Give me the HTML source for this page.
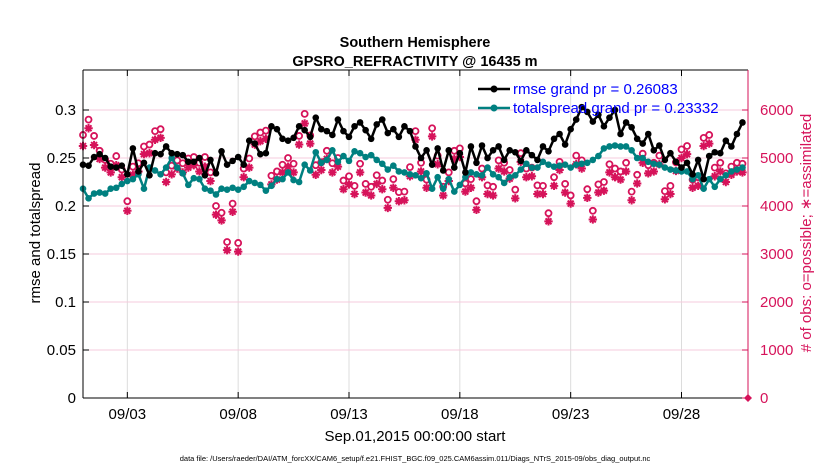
<!DOCTYPE html>
<html><head><meta charset="utf-8">
<style>
body{margin:0;background:#fff;}
svg{display:block;font-family:"Liberation Sans",sans-serif;}
</style></head>
<body>
<svg id="chart" width="830" height="470" xmlns="http://www.w3.org/2000/svg">
<rect width="830" height="470" fill="#fff"/>
<text x="415" y="47" text-anchor="middle" font-size="14.5" font-weight="bold">Southern Hemisphere</text>
<text x="415" y="66" text-anchor="middle" font-size="14.5" font-weight="bold">GPSRO_REFRACTIVITY @ 16435 m</text>
<g id="grid"></g>
<g id="marks"></g>
<g id="axes"></g>
<text transform="translate(40,233) rotate(-90)" text-anchor="middle" font-size="15">rmse and totalspread</text>
<text transform="translate(811,233) rotate(-90)" text-anchor="middle" font-size="15" fill="#d6135a"># of obs: o=possible; ∗=assimilated</text>
<text x="415" y="441" text-anchor="middle" font-size="15">Sep.01,2015 00:00:00 start</text>
<text x="415" y="461" text-anchor="middle" font-size="7.5">data file: /Users/raeder/DAI/ATM_forcXX/CAM6_setup/f.e21.FHIST_BGC.f09_025.CAM6assim.011/Diags_NTrS_2015-09/obs_diag_output.nc</text>
<g>
  <line x1="478" y1="89" x2="510" y2="89" stroke="#000" stroke-width="2.5"/>
  <circle cx="494" cy="89" r="3.5" fill="#000"/>
  <text x="513" y="94" font-size="15" fill="#0000ff">rmse grand pr = 0.26083</text>
  <line x1="478" y1="108" x2="510" y2="108" stroke="#008080" stroke-width="2.5"/>
  <circle cx="494" cy="108" r="3.5" fill="#008080"/>
  <text x="513" y="113" font-size="15" fill="#0000ff">totalspread grand pr = 0.23332</text>
</g>
</svg>
<script>
const rmse = [0.243,0.242,0.251,0.254,0.250,0.241,0.240,0.242,0.233,0.260,0.236,0.245,0.232,0.255,0.254,0.262,0.255,0.254,0.253,0.246,
0.246,0.250,0.232,0.248,0.234,0.257,0.243,0.247,0.251,0.243,
0.268,0.265,0.254,0.255,0.283,0.280,0.270,0.268,0.271,0.283,
0.279,0.272,0.292,0.280,0.278,0.274,0.290,0.278,0.272,0.283,
0.287,0.279,0.270,0.285,0.290,0.276,0.280,0.272,0.283,0.278,
0.262,0.250,0.258,0.243,0.260,0.237,0.258,0.240,0.255,0.235,
0.262,0.245,0.263,0.250,0.258,0.262,0.248,0.258,0.256,0.247,
0.258,0.253,0.248,0.262,0.257,0.270,0.275,0.264,0.280,0.290,
0.303,0.298,0.288,0.295,0.283,0.292,0.300,0.275,0.287,0.282,
0.270,0.265,0.275,0.258,0.263,0.248,0.255,0.246,0.240,0.245,
0.233,0.248,0.228,0.252,0.256,0.255,0.268,0.262,0.275,0.287];
const spread = [0.218,0.208,0.213,0.214,0.213,0.218,0.219,0.223,0.226,0.228,
0.233,0.218,0.240,0.237,0.233,0.240,0.250,0.240,0.234,0.222,
0.229,0.228,0.218,0.216,0.212,0.218,0.217,0.219,0.217,0.220,
0.226,0.224,0.222,0.216,0.221,0.228,0.228,0.235,0.227,0.225,
0.243,0.237,0.256,0.245,0.248,0.258,0.246,0.252,0.247,0.257,
0.255,0.251,0.253,0.248,0.244,0.238,0.242,0.236,0.235,0.233,
0.232,0.229,0.234,0.218,0.230,0.218,0.228,0.215,0.222,0.230,
0.235,0.233,0.232,0.240,0.233,0.230,0.224,0.230,0.232,0.238,
0.244,0.240,0.240,0.246,0.243,0.241,0.242,0.243,0.240,0.243,
0.244,0.245,0.248,0.252,0.260,0.262,0.263,0.262,0.262,0.258,
0.250,0.250,0.246,0.244,0.243,0.240,0.238,0.237,0.236,0.236,
0.228,0.232,0.218,0.228,0.220,0.228,0.232,0.236,0.238,0.240];
const possible = [5480,5800,5460,5150,4960,4880,5040,4760,4100,4820,
4890,5240,5280,5560,5600,4700,4840,4950,4890,4990,
5020,4900,5020,4700,4000,3860,3250,4050,3230,4780,
4990,5450,5530,5570,4630,4720,4860,5000,4880,5460,
5920,5470,4850,4910,5150,4890,5000,4530,4620,4420,
4880,4460,4400,4640,4530,4130,4560,4290,4300,4810,
5560,4900,4550,5620,5050,4400,4700,5150,5200,4470,
4560,4100,4780,4430,4400,4950,4900,4750,4340,5100,
4780,4800,4430,4420,3850,4600,4920,4460,4220,5050,
4950,4350,3900,4450,4500,4870,4780,4720,4900,4300,
4650,5090,4850,4900,5050,4310,4420,4910,5180,5250,
4550,4600,5420,5480,4800,4900,4680,4820,4900,4880];
const assimilated = [5250,5620,5270,4980,4800,4700,4850,4600,3900,4650,
4720,5080,5100,5380,5420,4500,4660,4780,4700,4800,
4850,4720,4820,4520,3820,3700,3080,3880,3050,4600,
4800,5280,5350,5400,4450,4550,4700,4820,4700,5280,
5720,5300,4650,4750,4980,4700,4820,4350,4450,4250,
4700,4280,4220,4460,4350,3960,4380,4100,4120,4620,
5380,4720,4380,5450,4870,4220,4520,4980,5020,4300,
4380,3920,4600,4250,4220,4780,4720,4570,4160,4920,
4600,4620,4250,4250,3680,4420,4750,4280,4050,4870,
4780,4170,3720,4280,4320,4700,4600,4550,4720,4120,
4470,4900,4680,4720,4870,4140,4250,4730,5000,5080,
4380,4420,5250,5300,4620,4720,4500,4650,4720,4700];
const leftTicks = [0,0.05,0.1,0.15,0.2,0.25,0.3];
const leftTickLabels = ["0","0.05","0.1","0.15","0.2","0.25","0.3"];
const rightTicks = [0,1000,2000,3000,4000,5000,6000];
const xTickDays = [2,7,12,17,22,27];
const xTickLabels = ["09/03","09/08","09/13","09/18","09/23","09/28"];

const NS="http://www.w3.org/2000/svg";
const L=83,R=748,T=70,B=398;
const dayPx=(R-L)/30;
const xDay=d=>L+d*dayPx;
const xIdx=i=>xDay(i*0.25);
const yL=v=>B-(v/0.3)*(B-110);
const yR=c=>B-(c/6000)*(B-110);
function mk(tag,attrs,parent){const e=document.createElementNS(NS,tag);for(const k in attrs)e.setAttribute(k,attrs[k]);parent.appendChild(e);return e;}
const grid=document.getElementById('grid'),marks=document.getElementById('marks'),axes=document.getElementById('axes');
xTickDays.forEach(d=>{const l=mk('line',{x1:xDay(d),x2:xDay(d),y1:T,y2:B,stroke:'#dcdcdc','stroke-width':1},grid);

});
rightTicks.forEach(c=>{if(c===0)return;const l=mk('line',{x1:L,x2:R,y1:yR(c),y2:yR(c),stroke:'#f6cbdc','stroke-width':1},grid);

});
possible.forEach((c,i)=>{const e=mk('circle',{cx:xIdx(i),cy:yR(c),r:3,fill:'#fff',stroke:'#d6135a','stroke-width':1.8},marks);

});
assimilated.forEach((c,i)=>{const x=xIdx(i),y=yR(c),r=4.2,d=r*0.707;
const e=mk('path',{d:`M${x-r},${y}H${x+r}M${x},${y-r}V${y+r}M${x-d},${y-d}L${x+d},${y+d}M${x-d},${y+d}L${x+d},${y-d}`,stroke:'#d6135a','stroke-width':2,fill:'none'},marks);

});
function series(arr,color,name){
 const pts=arr.map((v,i)=>xIdx(i).toFixed(1)+','+yL(v).toFixed(1)).join(' ');
 const pl=mk('polyline',{points:pts,fill:'none',stroke:color,'stroke-width':2.5,'stroke-linejoin':'round'},marks);
 
 
 arr.forEach((v,i)=>{const c=mk('circle',{cx:xIdx(i),cy:yL(v),r:3.3,fill:color},marks);
 
 });
}
series(spread,'#008080','totalspread');
series(rmse,'#000000','rmse');
mk('line',{x1:L,x2:R,y1:T,y2:T,stroke:'#000','stroke-width':1},axes);
mk('line',{x1:L,x2:L,y1:T,y2:B,stroke:'#000','stroke-width':1},axes);
mk('line',{x1:L,x2:R,y1:B,y2:B,stroke:'#000','stroke-width':1},axes);
mk('line',{x1:R,x2:R,y1:T,y2:B,stroke:'#d6135a','stroke-width':1},axes);
mk('path',{d:`M${R-4},${B}L${R},${B-4}L${R+4},${B}L${R},${B+4}Z`,fill:'#d6135a'},axes);
leftTicks.forEach((v,i)=>{const y=yL(v);mk('line',{x1:L,x2:L+6,y1:y,y2:y,stroke:'#000'},axes);
const t=mk('text',{x:L-7,y:y+5,'text-anchor':'end','font-size':15},axes);t.textContent=leftTickLabels[i];

});
rightTicks.forEach(c=>{const y=yR(c);mk('line',{x1:R-6,x2:R,y1:y,y2:y,stroke:'#d6135a'},axes);
const t=mk('text',{x:R+12,y:y+5,'font-size':15,fill:'#d6135a'},axes);t.textContent=String(c);

});
xTickDays.forEach((d,i)=>{const x=xDay(d);mk('line',{x1:x,x2:x,y1:B,y2:B-6,stroke:'#000'},axes);mk('line',{x1:x,x2:x,y1:T,y2:T+6,stroke:'#000'},axes);
const t=mk('text',{x:x,y:B+21,'text-anchor':'middle','font-size':15},axes);t.textContent=xTickLabels[i];

});
</script>
</body></html>
